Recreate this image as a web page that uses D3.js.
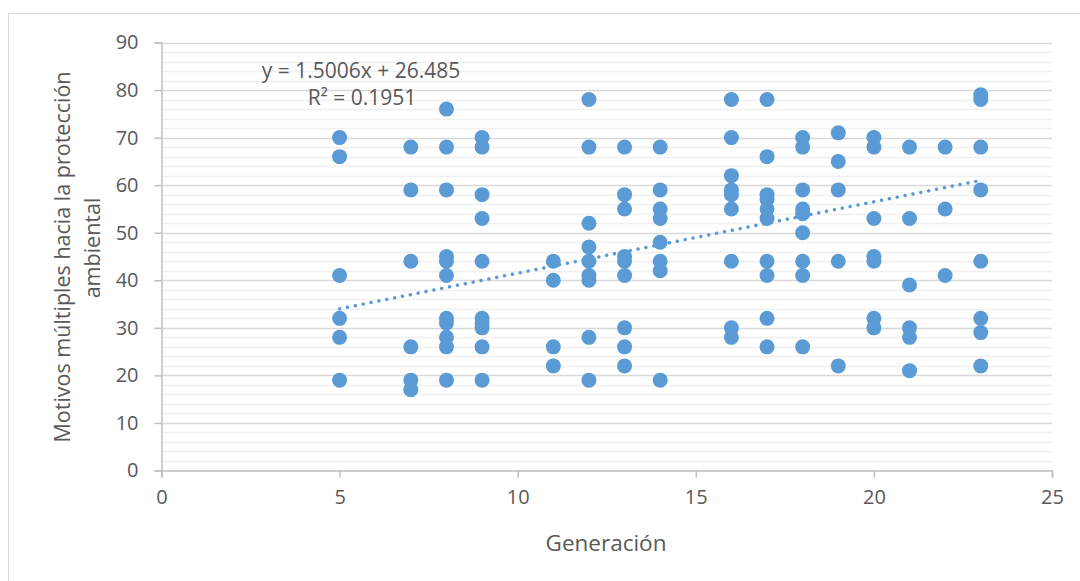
<!DOCTYPE html>
<html><head><meta charset="utf-8">
<script src="https://cdn.jsdelivr.net/npm/d3@7"></script>
<style>body{margin:0;background:#fff;} svg{display:block;}</style>
</head><body>
<svg id="c" width="1080" height="581"></svg>
<script>
// Data
const generacion = [
 5,5,5,5,5,5,
 7,7,7,7,7,7,
 8,8,8,8,8,8,8,8,8,8,8,
 9,9,9,9,9,9,9,9,9,9,
 11,11,11,11,
 12,12,12,12,12,12,12,12,12,
 13,13,13,13,13,13,13,13,13,
 14,14,14,14,14,14,14,14,
 16,16,16,16,16,16,16,16,16,
 17,17,17,17,17,17,17,17,17,17,
 18,18,18,18,18,18,18,18,18,
 19,19,19,19,19,
 20,20,20,20,20,20,20,
 21,21,21,21,21,21,
 22,22,22,
 23,23,23,23,23,23,23,23
];
const motivos = [
 70,66,41,32,28,19,
 68,59,44,26,19,17,
 76,68,59,45,44,41,32,31,28,26,19,
 70,68,58,53,44,32,31,30,26,19,
 44,40,26,22,
 78,68,52,47,44,41,40,28,19,
 68,58,55,45,44,41,30,26,22,
 68,59,55,53,48,44,42,19,
 78,70,62,59,58,55,44,30,28,
 78,66,58,57,55,53,44,41,32,26,
 70,68,59,55,54,50,44,41,26,
 71,65,59,44,22,
 70,68,53,45,44,32,30,
 68,53,39,30,28,21,
 68,55,41,
 79,78,68,59,44,32,29,22
];
const xTicks = [0,5,10,15,20,25];
const yTicks = [0,10,20,30,40,50,60,70,80,90];
const trendSlope = 1.5006, trendIntercept = 26.485;
const trendRange = [5, 23];
const eqLabel = "y = 1.5006x + 26.485";
const r2Label = "R² = 0.1951";
const xTitle = "Generación";
const yTitle = ["Motivos múltiples hacia la protección", "ambiental"];

const svg = d3.select("#c");
const font = "'Open Sans', sans-serif";
const txt = "#595959";
const blue = "#5b9bd5";

// chart border
svg.append("rect").attr("x",8.5).attr("y",13.5).attr("width",1090).attr("height",600)
  .attr("fill","none").attr("stroke","#d9d9d9").attr("stroke-width",1);

const x = d3.scaleLinear().domain([0,25]).range([161.5,1052]);
const y = d3.scaleLinear().domain([0,90]).range([470.5,42.5]);

// minor gridlines
const minor = d3.range(0,91,2).filter(v=>v%10!==0);
svg.append("g").selectAll("line").data(minor).join("line")
  .attr("x1",x(0)).attr("x2",x(25)).attr("y1",d=>Math.round(y(d))+0.5).attr("y2",d=>Math.round(y(d))+0.5)
  .attr("stroke","#f0f0f0").attr("stroke-width",1.5);
// major gridlines
svg.append("g").selectAll("line").data(yTicks.filter(v=>v>0)).join("line")
  .attr("x1",x(0)).attr("x2",x(25)).attr("y1",d=>Math.round(y(d))+0.5).attr("y2",d=>Math.round(y(d))+0.5)
  .attr("stroke","#d9d9d9").attr("stroke-width",1.5);

// axes
const xAxis = d3.axisBottom(x).tickValues(xTicks).tickSize(7).tickPadding(12).tickFormat(d3.format("d"));
const gx = svg.append("g").attr("transform",`translate(0,${y(0)})`).call(xAxis);
const yAxis = d3.axisLeft(y).tickValues(yTicks).tickSize(7).tickPadding(16).tickFormat(d3.format("d"));
const gy = svg.append("g").attr("transform",`translate(${x(0)},0)`).call(yAxis);
[gx,gy].forEach(g=>{
  g.select(".domain").attr("stroke","#bfbfbf").attr("stroke-width",1.5);
  g.selectAll(".tick line").attr("stroke","#bfbfbf").attr("stroke-width",1.5);
  g.selectAll(".tick text").attr("fill",txt).style("font-family",font).style("font-size","20px");
});
gx.selectAll(".tick text").attr("dy","0.71em");

// points
svg.append("g").selectAll("circle").data(generacion.map((g,i)=>[g,motivos[i]])).join("circle")
  .attr("cx",d=>x(d[0])).attr("cy",d=>y(d[1])).attr("r",7.5).attr("fill",blue);

// trendline
svg.append("line")
  .attr("x1",x(trendRange[0])).attr("y1",y(trendSlope*trendRange[0]+trendIntercept))
  .attr("x2",x(trendRange[1])).attr("y2",y(trendSlope*trendRange[1]+trendIntercept))
  .attr("stroke",blue).attr("stroke-width",3.5).attr("stroke-linecap","round")
  .attr("stroke-dasharray","0.01 8");

// equation labels
svg.append("text").attr("x",361).attr("y",78).attr("text-anchor","middle")
  .attr("fill",txt).style("font-family",font).style("font-size","21px").text(eqLabel);
svg.append("text").attr("x",362).attr("y",105).attr("text-anchor","middle")
  .attr("fill",txt).style("font-family",font).style("font-size","21px").text(r2Label);

// axis titles
svg.append("text").attr("x",606).attr("y",551).attr("text-anchor","middle")
  .attr("fill",txt).style("font-family",font).style("font-size","22.5px").text(xTitle);
const yt = svg.append("text").attr("transform","translate(0,257) rotate(-90)")
  .attr("text-anchor","middle").attr("fill",txt).style("font-family",font).style("font-size","21.5px");
yt.append("tspan").attr("x",0).attr("y",70).text(yTitle[0]);
yt.append("tspan").attr("x",9).attr("y",100).text(yTitle[1]);
</script>
</body></html>
